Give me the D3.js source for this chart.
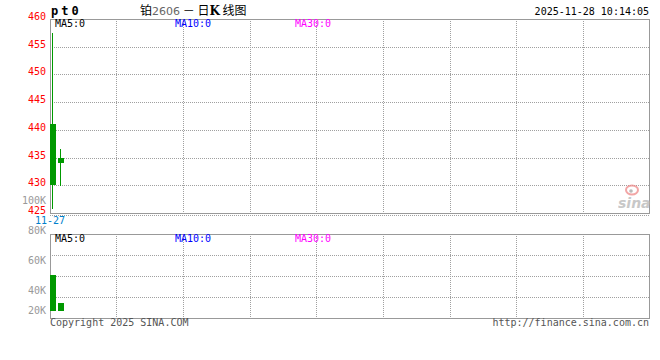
<!DOCTYPE html>
<html><head><meta charset="utf-8">
<script src="https://cdn.jsdelivr.net/npm/d3@7/dist/d3.min.js"></script>
<style>body{margin:0;background:#fff}svg{display:block}</style>
</head><body>
<script>
const dates = ["11-27", "11-28"];
const openP = [441.0, 435.0];
const highP = [457.5, 436.5];
const lowP = [425.8, 429.9];
const closeP = [430.0, 434.1];
const volume = [37400, 8600];
const priceTicks = [460, 455, 450, 445, 440, 435, 430, 425];
const volTickValues = [100000, 80000, 60000, 40000, 20000];
const volTickLabels = ["100K", "80K", "60K", "40K", "20K"];
const maLabels = ["MA5:0", "MA10:0", "MA30:0"];
const titleCode = "pt0";
const titleDate = "2025-11-28 10:14:05";

const W = 660, H = 360;
const L = 50, R = 650;
const pTop = 19, pBot = 213, vTop = 234, vBot = 318;
const mono = "'DejaVu Sans Mono', monospace";
const green = "#009900";

const svg = d3.select("body").append("svg").attr("width", W).attr("height", H);
svg.append("rect").attr("width", W).attr("height", H).attr("fill", "#fff");

const x = d3.scaleLinear().domain([0, 75]).range([L, R]);
const y = d3.scaleLinear().domain([425, 460]).range([pBot, pTop]);
const vy = d3.scaleLinear().domain([0, 80000]).range([311, vTop]);
const vl = d3.scaleLinear().domain([80000, 40000]).range([vTop, 294]);
const colX = d3.scaleLinear().domain([0, 9]).range([L, R]);

const grid = svg.append("g").attr("stroke", "#a0a0a0").attr("stroke-dasharray", "1,1").attr("shape-rendering", "crispEdges");
d3.range(1, 9).forEach(k => {
  const gx = Math.floor(colX(k)) + 0.5;
  grid.append("line").attr("x1", gx).attr("x2", gx).attr("y1", pTop).attr("y2", pBot);
  grid.append("line").attr("x1", gx).attr("x2", gx).attr("y1", vTop).attr("y2", vBot);
});
priceTicks.slice(1, -1).forEach(v => {
  const gy = Math.round(y(v)) + 0.5;
  grid.append("line").attr("x1", L).attr("x2", R).attr("y1", gy).attr("y2", gy);
});
[1, 2, 3].forEach(k => {
  const gy = Math.round(vTop + (vBot - vTop) * k / 4) + 0.5;
  grid.append("line").attr("x1", L).attr("x2", R).attr("y1", gy).attr("y2", gy);
});
grid.append("line").attr("x1", L).attr("x2", R).attr("y1", pBot + 2).attr("y2", pBot + 2);

const frame = svg.append("g").attr("fill", "none").attr("stroke", "#999").attr("shape-rendering", "crispEdges");
frame.append("rect").attr("x", L + 0.5).attr("y", pTop + 0.5).attr("width", R - L - 1).attr("height", pBot - pTop);
frame.append("rect").attr("x", L + 0.5).attr("y", vTop + 0.5).attr("width", R - L - 1).attr("height", vBot - vTop);

// candles
const cg = svg.append("g").attr("shape-rendering", "crispEdges");
dates.forEach((d, i) => {
  const col = closeP[i] >= openP[i] ? "#e00" : green;
  cg.append("line").attr("x1", x(i) + 2.5).attr("x2", x(i) + 2.5)
    .attr("y1", y(highP[i])).attr("y2", y(lowP[i])).attr("stroke", col);
  const top = y(Math.max(openP[i], closeP[i])), bot = y(Math.min(openP[i], closeP[i]));
  cg.append("rect").attr("x", x(i)).attr("y", top).attr("width", x(1) - x(0) - 2)
    .attr("height", Math.max(1, bot - top)).attr("fill", col);
  cg.append("rect").attr("x", x(i)).attr("y", vy(volume[i])).attr("width", x(1) - x(0) - 2)
    .attr("height", vy(0) - vy(volume[i])).attr("fill", col);
});

// price labels
svg.append("g").selectAll("text").data(priceTicks).join("text")
  .attr("x", 46).attr("y", v => y(v) + 1).attr("text-anchor", "end")
  .attr("font-family", mono).attr("font-size", 10).attr("fill", "#f00").text(v => v);

// volume labels
svg.append("g").selectAll("text").data(volTickValues).join("text")
  .attr("x", 46).attr("y", v => Math.min(vl(v), 313.5)).attr("text-anchor", "end")
  .attr("font-family", mono).attr("font-size", 10).attr("fill", "#999")
  .text((v, i) => volTickLabels[i]);

// date label
svg.append("text").attr("x", x(0)).attr("y", 224).attr("text-anchor", "middle")
  .attr("font-family", mono).attr("font-size", 10).attr("fill", "#0080cc").text(dates[0]);

// MA labels
const maColors = ["#000", "#0000ff", "#ff00ff"];
const maX = [55, 175, 295];
[27, 242].forEach(by => {
  maLabels.forEach((t, i) => {
    svg.append("text").attr("x", maX[i]).attr("y", by).attr("font-family", mono)
      .attr("font-size", 10).attr("fill", maColors[i]).text(t);
  });
});

// title
svg.append("text").attr("x", 51).attr("y", 15).attr("font-family", mono)
  .attr("font-weight", "bold").attr("font-size", 12).attr("letter-spacing", 3)
  .attr("fill", "#000").text(titleCode);
const tt = svg.append("text").attr("x", 140).attr("y", 15)
  .attr("font-family", "'Noto Sans CJK SC', sans-serif").attr("font-size", 12).attr("fill", "#000");
tt.append("tspan").text("铂");
tt.append("tspan").attr("fill", "#666").attr("font-family", "'DejaVu Sans', sans-serif").attr("font-size", 11).text("2606");
tt.append("tspan").text(" － 日");
tt.append("tspan").attr("font-weight", "bold").attr("font-family", "'DejaVu Serif', serif").text("K");
tt.append("tspan").text(" 线图");
svg.append("text").attr("x", 649).attr("y", 15).attr("text-anchor", "end")
  .attr("font-family", mono).attr("font-size", 10).attr("fill", "#000").text(titleDate);

// footer
svg.append("text").attr("x", 50).attr("y", 326).attr("font-family", mono)
  .attr("font-size", 10).attr("fill", "#555").text("Copyright 2025 SINA.COM");
svg.append("text").attr("x", 649).attr("y", 326).attr("text-anchor", "end").attr("font-family", mono)
  .attr("font-size", 10).attr("fill", "#555").text("http://finance.sina.com.cn");

// sina logo
const lg = svg.append("g").attr("opacity", 0.8);
lg.append("ellipse").attr("cx", 632).attr("cy", 190).attr("rx", 6).attr("ry", 4.5)
  .attr("fill", "none").attr("stroke", "#f09090").attr("stroke-width", 2);
lg.append("circle").attr("cx", 631).attr("cy", 191).attr("r", 1.8).attr("fill", "#aaa");
lg.append("text").attr("x", 618).attr("y", 208).attr("font-family", "'DejaVu Sans', sans-serif")
  .attr("font-style", "italic").attr("font-weight", "bold").attr("font-size", 14)
  .attr("fill", "#bbb").text("sina");
</script>
</body></html>
